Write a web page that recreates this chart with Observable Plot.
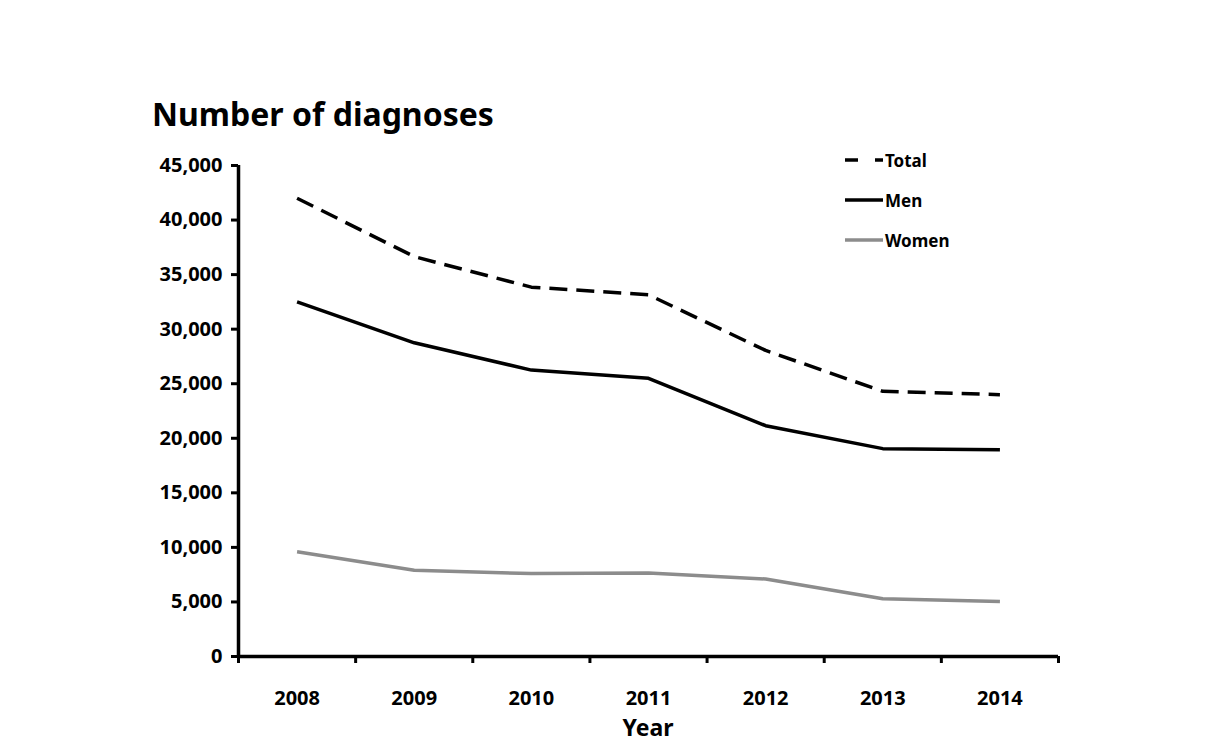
<!DOCTYPE html>
<html><head><meta charset="utf-8">
<script src="https://cdn.jsdelivr.net/npm/d3@7"></script>
<script src="https://cdn.jsdelivr.net/npm/@observablehq/plot@0.6"></script>
<style>
body{margin:0;background:#fff;font-family:"Noto Sans",sans-serif;}
#wrap{position:relative;width:1226px;height:752px;overflow:hidden;background:#fff}
#chart{position:absolute;left:0;top:0}
#title{position:absolute;left:152px;top:92px;font-size:32px;font-weight:bold;color:#000;white-space:nowrap}
#xlabel{position:absolute;left:548px;width:200px;text-align:center;top:716px;font-size:23px;line-height:23px;font-weight:bold;color:#000}
#legend{position:absolute;left:843px;top:140px}
.lg{display:flex;align-items:center;height:40px;font-size:17px;font-weight:bold;color:#000}
.lg svg{margin-right:2px}
</style></head><body>
<div id="wrap">
  <div id="title">Number of diagnoses</div>
  <div id="chart"></div>
  <div id="legend"></div>
  <div id="xlabel">Year</div>
</div>
<script>
const years = [2008, 2009, 2010, 2011, 2012, 2013, 2014];
const total = [42000, 36650, 33850, 33150, 28050, 24300, 24000];
const men   = [32500, 28750, 26250, 25500, 21150, 19050, 18950];
const women = [9600, 7900, 7600, 7650, 7100, 5300, 5050];
const yTicks = [0, 5000, 10000, 15000, 20000, 25000, 30000, 35000, 40000, 45000];
const seriesNames = ["Total", "Men", "Women"];
const seriesColors = ["#000000", "#000000", "#8c8c8c"];
const seriesDash = ["18,9", null, null];

const seriesValues = [total, men, women];
const rows = seriesNames.map((s, k) => years.map((yr, i) => ({year: yr, value: seriesValues[k][i], series: s})));
const bounds = years.map(y => y - 0.5).concat([years[years.length - 1] + 0.5]);
const fmt = d3.format(",");

const lineMarks = seriesNames.map((s, k) => Plot.line(rows[k], {
  x: "year", y: "value", stroke: seriesColors[k], strokeWidth: 3.5,
  strokeDasharray: seriesDash[k] || undefined, strokeLinejoin: "round", strokeLinecap: "butt"
}));

const chart = Plot.plot({
  width: 1226, height: 752,
  marginLeft: 238, marginRight: 168, marginTop: 165, marginBottom: 96,
  style: "font-family:'Noto Sans',sans-serif;font-size:20px;font-weight:bold;color:#000;background:transparent;overflow:visible",
  x: {domain: [bounds[0], bounds[bounds.length - 1]]},
  y: {domain: [0, 45000]},
  marks: [
    Plot.axisY({ticks: yTicks, tickFormat: fmt, tickSize: 7, tickPadding: 9, strokeWidth: 3, label: null}),
    Plot.axisX({ticks: bounds, tickFormat: () => "", tickSize: 7, strokeWidth: 3, label: null}),
    Plot.axisX({ticks: years, tickFormat: d => String(d), tickSize: 0, tickPadding: 34, label: null}),
    Plot.ruleX([bounds[0]], {stroke: "#000", strokeWidth: 3.5}),
    Plot.ruleY([0], {stroke: "#000", strokeWidth: 3.5}),
    ...lineMarks
  ]
});
document.getElementById("chart").appendChild(chart);

const legend = document.getElementById("legend");
seriesNames.forEach((s, k) => {
  const row = document.createElement("div");
  row.className = "lg";
  const dash = seriesDash[k] ? `stroke-dasharray="13,17"` : "";
  row.innerHTML = `<svg width="40" height="8"><line x1="2" y1="4" x2="40" y2="4" stroke="${seriesColors[k]}" stroke-width="3.5" ${dash}/></svg><span>${s}</span>`;
  legend.appendChild(row);
});
</script>
</body></html>
